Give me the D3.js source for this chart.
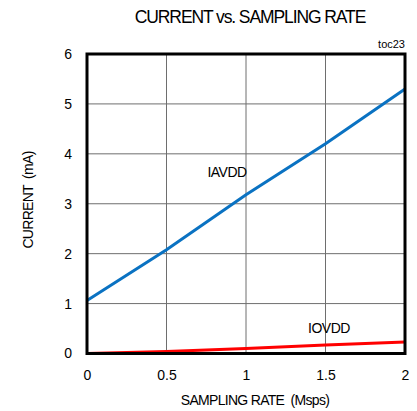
<!DOCTYPE html>
<html><head><meta charset="utf-8">
<script src="https://cdn.jsdelivr.net/npm/d3@7"></script>
<style>body{margin:0;background:#fff}text{font-family:"Liberation Sans",Arial,sans-serif;fill:#000;white-space:pre}</style>
</head><body><svg id="c" width="417" height="411"></svg>
<script>
const rates = [0, 0.5, 1, 1.5, 2];
const iavdd = [1.06, 2.08, 3.18, 4.20, 5.30];
const iovdd = [0.0, 0.04, 0.10, 0.17, 0.23];
const xTicks = [0, 0.5, 1, 1.5, 2];
const yTicks = [0, 1, 2, 3, 4, 5, 6];

const svg = d3.select("#c");
const L = 87, R = 405, T = 54, B = 353.5;
const x = d3.scaleLinear().domain([0, 2]).range([L, R]);
const y = d3.scaleLinear().domain([0, 6]).range([B, T]);

// grid
svg.append("g").selectAll("line").data(xTicks.slice(1, -1)).join("line")
  .attr("x1", d => x(d)).attr("x2", d => x(d)).attr("y1", T).attr("y2", B)
  .attr("stroke", "#6e6e6e").attr("stroke-width", 1);
svg.append("g").selectAll("line").data(yTicks.slice(1, -1)).join("line")
  .attr("y1", d => y(d)).attr("y2", d => y(d)).attr("x1", L).attr("x2", R)
  .attr("stroke", "#6e6e6e").attr("stroke-width", 1);

// axes labels via d3 axes
const xa = svg.append("g").attr("transform", `translate(0,${B})`)
  .call(d3.axisBottom(x).tickValues(xTicks).tickSize(0).tickPadding(17).tickFormat(d3.format("")));
const ya = svg.append("g").attr("transform", `translate(${L},0)`)
  .call(d3.axisLeft(y).tickValues(yTicks).tickSize(0).tickPadding(15).tickFormat(d3.format("")));
[xa, ya].forEach(a => { a.select(".domain").remove(); a.selectAll("text").style("font-size", "14px").style("font-family", '"Liberation Sans",Arial,sans-serif').attr("fill", "#000"); });

const line = d3.line().x((d, i) => x(rates[i])).y(d => y(d));
svg.append("path").datum(iavdd).attr("d", line).attr("fill", "none").attr("stroke", "#0a72c2").attr("stroke-width", 3);
svg.append("path").datum(iovdd).attr("d", line).attr("fill", "none").attr("stroke", "#ff0000").attr("stroke-width", 3);

// border
svg.append("rect").attr("x", L).attr("y", T).attr("width", R - L).attr("height", B - T)
  .attr("fill", "none").attr("stroke", "#000").attr("stroke-width", 3);

svg.append("text").attr("x", 250).attr("y", 23).attr("text-anchor", "middle")
  .style("font-size", "17.5px").style("letter-spacing", "-1.1px").text("CURRENT vs. SAMPLING RATE");
svg.append("text").attr("x", 405).attr("y", 48).attr("text-anchor", "end")
  .style("font-size", "11px").text("toc23");
svg.append("text").attr("x", 255).attr("y", 405).attr("text-anchor", "middle")
  .style("font-size", "14px").style("letter-spacing", "-0.7px").text("SAMPLING RATE  (Msps)");
svg.append("text").attr("transform", "translate(33,200) rotate(-90)").attr("text-anchor", "middle")
  .style("font-size", "14px").style("letter-spacing", "-0.7px").text("CURRENT  (mA)");
svg.append("text").attr("x", 227).attr("y", 177).attr("text-anchor", "middle")
  .style("font-size", "14px").style("letter-spacing", "-0.5px").text("IAVDD");
svg.append("text").attr("x", 329).attr("y", 333).attr("text-anchor", "middle")
  .style("font-size", "14px").style("letter-spacing", "-0.5px").text("IOVDD");
</script></body></html>
